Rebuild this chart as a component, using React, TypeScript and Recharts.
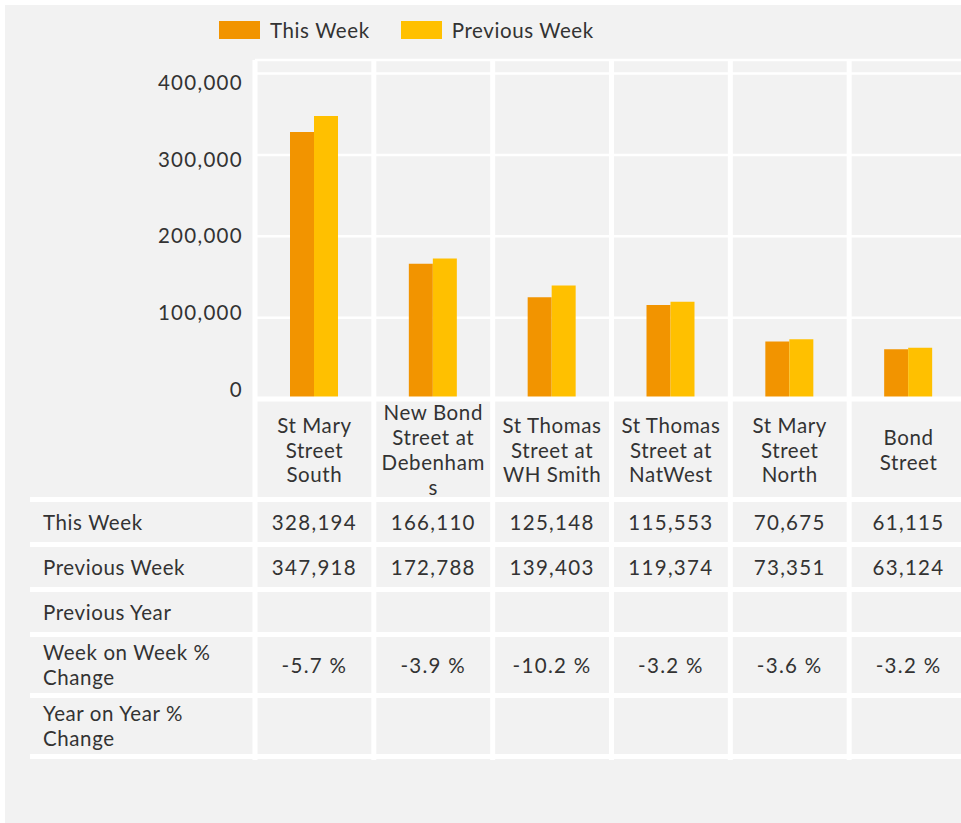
import React from 'react';
import { BarChart, Bar, XAxis, YAxis, CartesianGrid, Legend } from 'recharts';

const categories = [
  'St Mary Street South',
  'New Bond Street at Debenhams',
  'St Thomas Street at WH Smith',
  'St Thomas Street at NatWest',
  'St Mary Street North',
  'Bond Street',
];
// wrapped the way the original axis wraps them
const categoryLines = [
  ['St Mary', 'Street', 'South'],
  ['New Bond', 'Street at', 'Debenham', 's'],
  ['St Thomas', 'Street at', 'WH Smith'],
  ['St Thomas', 'Street at', 'NatWest'],
  ['St Mary', 'Street', 'North'],
  ['Bond', 'Street'],
];
const seriesNames = ['This Week', 'Previous Week'];
const thisWeek = [328194, 166110, 125148, 115553, 70675, 61115];
const previousWeek = [347918, 172788, 139403, 119374, 73351, 63124];
const previousYear = ['', '', '', '', '', ''];
const weekOnWeek = ['-5.7 %', '-3.9 %', '-10.2 %', '-3.2 %', '-3.6 %', '-3.2 %'];
const yearOnYear = ['', '', '', '', '', ''];
const yTicks = [0, 100000, 200000, 300000, 400000];

const ORANGE = '#F29400';
const YELLOW = '#FFC000';
const BG = '#f2f2f2';
const TEXT = '#333333';
const FONT = 'Lato, "Open Sans", sans-serif';
const FS = 20.5;
const LS_TEXT = 0.6;
const LS_NUM = 1.3;

const data = categories.map((name, i) => ({
  name,
  thisWeek: thisWeek[i],
  previousWeek: previousWeek[i],
}));

const fmt = (v: number) => v.toLocaleString('en-US');

const tableRows = [
  { label: ['This Week'], cells: thisWeek.map(fmt), h: 40 },
  { label: ['Previous Week'], cells: previousWeek.map(fmt), h: 40 },
  { label: ['Previous Year'], cells: previousYear, h: 40 },
  { label: ['Week on Week %', 'Change'], cells: weekOnWeek, h: 56 },
  { label: ['Year on Year %', 'Change'], cells: yearOnYear, h: 56 },
];

const CHART_W = 970;
const CHART_H = 760;
const Y_AXIS_W = 250;
const MARGIN = { top: 11, right: 7, left: 0, bottom: 266 };
const PLOT_W = CHART_W - Y_AXIS_W - MARGIN.left - MARGIN.right;
const COL_W = PLOT_W / categories.length;
const LINE_H = 24.8;

const YTick = (props: any) => {
  const { x, y, payload } = props;
  // the source labels sit a little off their grid lines
  const dy = -10.5 + (4.8 * payload.value) / 100000;
  return (
    <text x={x} y={y + dy} textAnchor="end" dominantBaseline="central" fill={TEXT}
      style={{ fontFamily: FONT, fontSize: FS, letterSpacing: LS_NUM }}>
      {fmt(payload.value)}
    </text>
  );
};

const CategoryTick = (props: any) => {
  const { x, y, payload } = props;
  const idx = categories.indexOf(payload.value);
  const lines = idx >= 0 ? categoryLines[idx] : [String(payload.value)];
  const firstY = y + 50.5 - ((lines.length - 1) / 2) * LINE_H;
  return (
    <text x={x} y={firstY} textAnchor="middle" dominantBaseline="central" fill={TEXT}
      style={{ fontFamily: FONT, fontSize: FS, letterSpacing: LS_TEXT }}>
      {lines.map((l, i) => (
        <tspan key={i} x={x} dy={i === 0 ? 0 : LINE_H} dominantBaseline="central">{l}</tspan>
      ))}
    </text>
  );
};

const LegendContent = (props: any) => {
  const items = [...(props.payload || [])].sort(
    (a: any, b: any) => seriesNames.indexOf(a.value) - seriesNames.indexOf(b.value)
  );
  return (
    <div style={{ height: 44, display: 'flex', paddingLeft: 214, boxSizing: 'border-box', fontFamily: FONT, fontSize: FS, letterSpacing: LS_TEXT, color: TEXT }}>
      {items.map((p: any) => (
        <div key={p.value} style={{ display: 'flex', alignItems: 'center', marginTop: 16, height: 18, marginRight: 31 }}>
          <span style={{ display: 'inline-block', width: 41, height: 18, background: p.color, marginRight: 10 }} />
          <span style={{ lineHeight: '18px' }}>{p.value}</span>
        </div>
      ))}
    </div>
  );
};

const App = () => {
  return (
    <div style={{ position: 'fixed', inset: 0, background: '#fff', overflow: 'hidden' }}>
      <div style={{ position: 'absolute', left: 5, top: 5, width: 980, height: 830, background: BG }}>
        <div style={{ position: 'absolute', left: 0, top: 0 }}>
          <BarChart width={CHART_W} height={CHART_H} data={data} margin={MARGIN} barGap={0} barSize={24}>
            <CartesianGrid stroke="#fff" strokeWidth={2.5} vertical={false} />
            <CartesianGrid
              stroke="#fff"
              strokeWidth={5}
              horizontal={false}
              y={55}
              height={700}
              verticalCoordinatesGenerator={({ offset }: any) =>
                categories.map((_, i) => offset.left + i * COL_W).concat(offset.left + PLOT_W)
              }
            />
            <Legend verticalAlign="top" content={<LegendContent />} wrapperStyle={{ top: 0, left: 0 }} />
            <XAxis dataKey="name" height={100} tickSize={0} tickMargin={0} interval={0}
              axisLine={{ stroke: '#fff', strokeWidth: 5 }} tick={<CategoryTick />} />
            <YAxis width={Y_AXIS_W} domain={[0, 416600]} ticks={yTicks} tickSize={0} tickMargin={12}
              axisLine={false} tick={<YTick />} />
            <Bar dataKey="thisWeek" name="This Week" fill={ORANGE} isAnimationActive={false} />
            <Bar dataKey="previousWeek" name="Previous Week" fill={YELLOW} isAnimationActive={false} />
          </BarChart>
        </div>
        <div style={{ position: 'absolute', left: 25, top: 492, width: 960, fontFamily: FONT, fontSize: FS, color: TEXT }}>
          {tableRows.map((row, r) => (
            <div key={r} style={{
              display: 'grid',
              gridTemplateColumns: `${Y_AXIS_W - 25}px repeat(${categories.length}, ${COL_W}px)`,
              height: row.h,
              borderTop: '5px solid #fff',
              borderBottom: r === tableRows.length - 1 ? '5px solid #fff' : undefined,
            }}>
              <div style={{ display: 'flex', flexDirection: 'column', justifyContent: 'center', paddingLeft: 13, lineHeight: '25px', letterSpacing: LS_TEXT }}>
                <div>
                  {row.label.map((l, i) => (
                    <React.Fragment key={i}>{i > 0 && <br />}{l}</React.Fragment>
                  ))}
                </div>
              </div>
              {row.cells.map((c, i) => (
                <div key={i} style={{ display: 'flex', alignItems: 'center', justifyContent: 'center', letterSpacing: LS_NUM }}>
                  {c}
                </div>
              ))}
            </div>
          ))}
        </div>
      </div>
    </div>
  );
};

export default App;
